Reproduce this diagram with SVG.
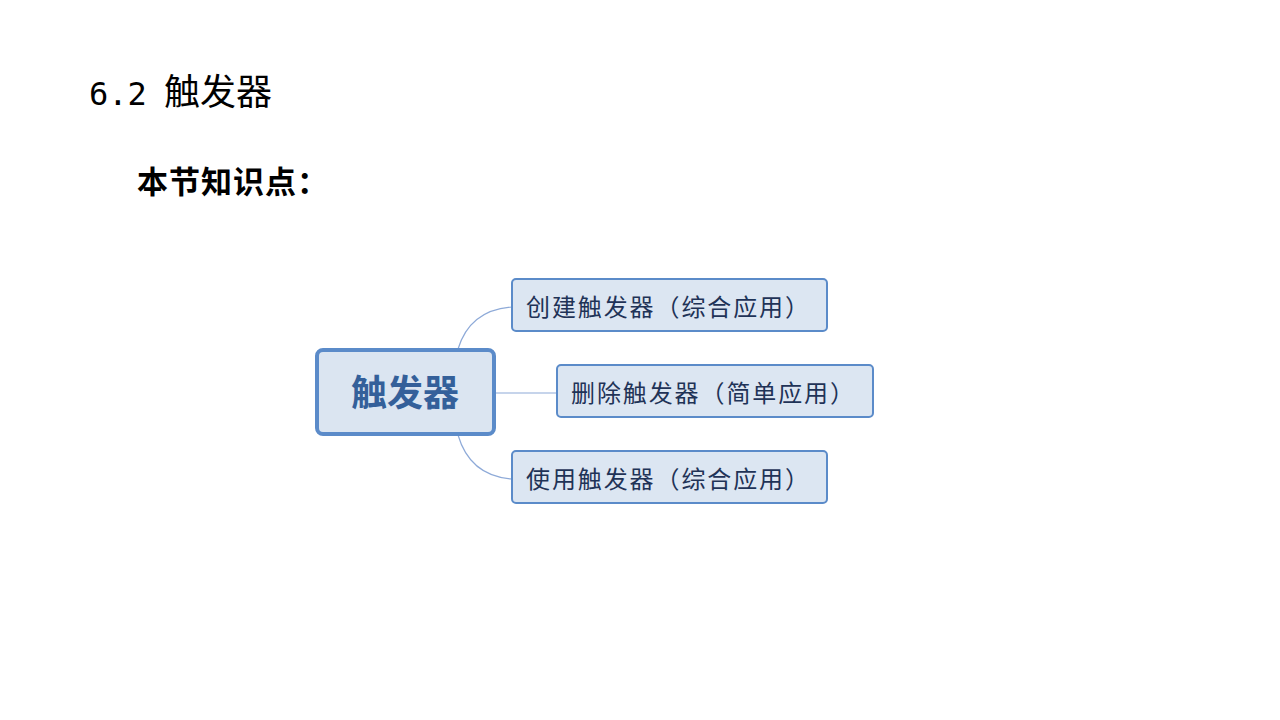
<svg xmlns="http://www.w3.org/2000/svg" width="1280" height="720" viewBox="0 0 1280 720">
<style>
.cjk{font-family:"Noto Sans CJK SC","Noto Sans",sans-serif}
.child rect{fill:#dce6f2;stroke:#5b8bc9;stroke-width:2}
.child text{font-size:24px;fill:#1f3357;letter-spacing:1.9px}
.conn path{fill:none;stroke:#8eaad8;stroke-width:1.2}
</style>
<rect width="1280" height="720" fill="#ffffff"/>
<text class="cjk" y="105" fill="#000"><tspan x="89" font-family="'DejaVu Sans Mono',monospace" font-size="32">6.2</tspan><tspan x="164" font-size="36">触发器</tspan></text>
<text class="cjk" x="137" y="193" font-size="31" font-weight="bold" fill="#000" letter-spacing="1">本节知识点：</text>
<g id="connectors" class="conn">
<path d="M458,349 Q470,310 512,307"/>
<path d="M494,393 L557,393"/>
<path d="M458,435 Q470,476 512,479"/>
</g>
<g id="center">
<rect x="317" y="350" width="177" height="84" rx="6" fill="#dbe5f1" stroke="#5b8bc9" stroke-width="4"/>
<text class="cjk" x="405" y="406" font-size="36" font-weight="bold" fill="#34609a" text-anchor="middle">触发器</text>
</g>
<g id="node1" class="child">
<rect x="512" y="279" width="315" height="52" rx="4"/>
<text class="cjk" x="526" y="316">创建触发器（综合应用）</text>
</g>
<g id="node2" class="child">
<rect x="557" y="365" width="316" height="52" rx="4"/>
<text class="cjk" x="571" y="402">删除触发器（简单应用）</text>
</g>
<g id="node3" class="child">
<rect x="512" y="451" width="315" height="52" rx="4"/>
<text class="cjk" x="526" y="488">使用触发器（综合应用）</text>
</g>
</svg>
